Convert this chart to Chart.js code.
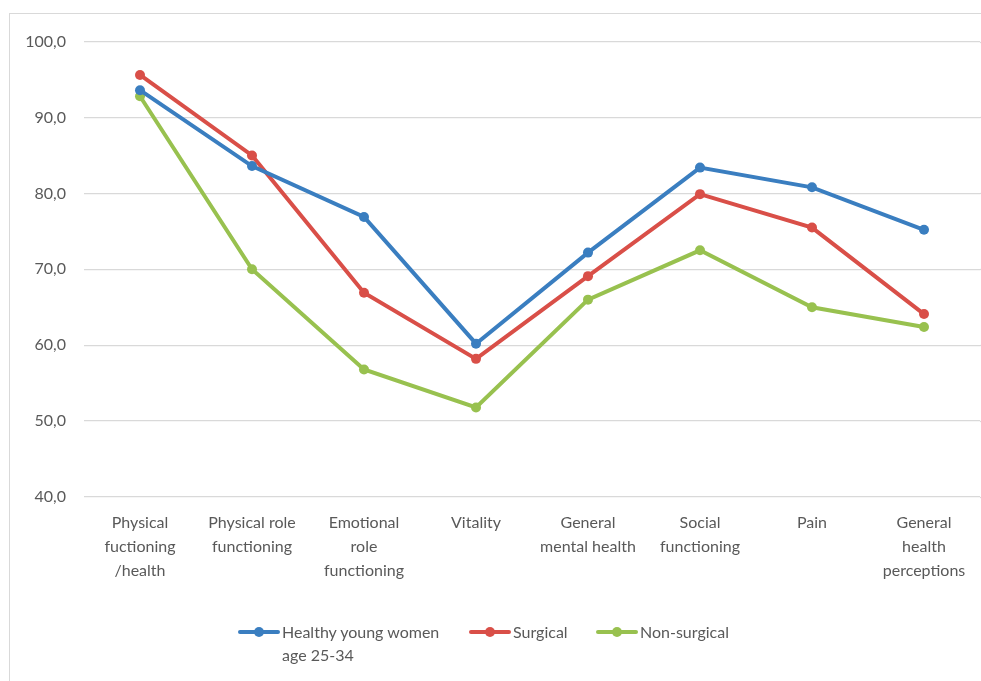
<!DOCTYPE html>
<html>
<head>
<meta charset="utf-8">
<script src="https://cdn.jsdelivr.net/npm/chart.js@4"></script>
<style>
html,body{margin:0;padding:0;background:#fff;width:981px;height:681px;overflow:hidden;position:relative;}
#frame{position:absolute;left:9px;top:13px;width:1100px;height:800px;border-left:1px solid #d9d9d9;border-top:1px solid #d9d9d9;box-sizing:border-box;}
#wrap{position:absolute;left:0;top:0;width:1000px;height:667px;}
#legend{position:absolute;top:0;left:0;font-family:Lato,"Liberation Sans",sans-serif;font-size:16px;color:#595959;}
.item{position:absolute;display:flex;align-items:flex-start;line-height:23px;white-space:nowrap;}
.sw{position:relative;width:42px;height:23px;margin-right:2px;flex:none;}
.sw .ln{position:absolute;left:0;right:0;top:10px;height:4px;border-radius:2px;}
.sw .pt{position:absolute;left:16px;top:7px;width:10px;height:10px;border-radius:50%;}
</style>
</head>
<body>
<div id="frame"><div id="wrap"><canvas id="c"></canvas></div></div>
<div id="legend"></div>
<script>
const categories = [
  ["Physical","fuctioning","/health"],
  ["Physical role","functioning"],
  ["Emotional","role","functioning"],
  ["Vitality"],
  ["General","mental health"],
  ["Social","functioning"],
  ["Pain"],
  ["General","health","perceptions"]
];
const seriesNames = ["Healthy young women age 25-34", "Surgical", "Non-surgical"];
const healthy = [93.6, 83.6, 76.9, 60.2, 72.2, 83.4, 80.8, 75.2];
const surgical = [95.6, 85.0, 66.9, 58.2, 69.1, 79.9, 75.5, 64.1];
const nonSurgical = [92.8, 70.0, 56.8, 51.8, 66.0, 72.5, 65.0, 62.4];
const colors = ["#3A7EC0", "#D94F48", "#98C14F"];
const yMin = 40, yMax = 100, yStep = 10;

const seriesData = [healthy, surgical, nonSurgical];
const datasets = seriesData.map((d, i) => ({
  label: seriesNames[i],
  data: d,
  borderColor: colors[i],
  backgroundColor: colors[i],
  borderWidth: 4,
  pointRadius: 5,
  pointHoverRadius: 5,
  pointBorderWidth: 0,
  tension: 0,
  fill: false
}));

const font = {family: "Lato, 'Liberation Sans', sans-serif", size: 16};

// plugin: extend horizontal gridlines to the right edge of the page (as in the reference)
const gridExtend = {
  id: 'gridExtend',
  beforeDatasetsDraw(chart) {
    const {ctx, chartArea, scales} = chart;
    ctx.save();
    ctx.strokeStyle = '#d9d9d9';
    ctx.lineWidth = 1.3;
    scales.y.ticks.forEach((t) => {
      const y = Math.round(scales.y.getPixelForValue(t.value)) + 0.5;
      ctx.beginPath();
      ctx.moveTo(chartArea.right, y);
      ctx.lineTo(chart.width, y);
      ctx.stroke();
    });
    ctx.restore();
  }
};

new Chart(document.getElementById('c'), {
  type: 'line',
  data: {labels: categories, datasets: datasets},
  options: {
    responsive: true,
    maintainAspectRatio: false,
    animation: false,
    layout: {padding: {top: 27, right: 30, left: 0, bottom: 0}},
    plugins: {legend: {display: false}, tooltip: {enabled: false}},
    scales: {
      x: {
        offset: true,
        grid: {display: false, drawTicks: false},
        border: {display: false},
        ticks: {color: '#595959', font: {...font, lineHeight: 1.5}, padding: 14, maxRotation: 0, autoSkip: false},
        afterFit: (s) => { s.height = 184; }
      },
      y: {
        min: yMin, max: yMax,
        grid: {color: '#d9d9d9', lineWidth: 1.3, drawTicks: false},
        border: {display: false},
        ticks: {
          stepSize: yStep, color: '#595959', font: font, padding: 18,
          callback: (v) => v.toFixed(1).replace('.', ',')
        },
        afterFit: (s) => { s.width = 74; }
      }
    }
  },
  plugins: [gridExtend]
});

// HTML legend built from series names/colors
const legendPos = [[238, 620, "Healthy young women<br>age 25-34"], [469, 620, null], [596, 620, null]];
const lg = document.getElementById('legend');
seriesNames.forEach((name, i) => {
  const it = document.createElement('div');
  it.className = 'item';
  it.style.left = legendPos[i][0] + 'px';
  it.style.top = legendPos[i][1] + 'px';
  it.innerHTML = '<div class="sw"><div class="ln" style="background:' + colors[i] + '"></div><div class="pt" style="background:' + colors[i] + '"></div></div><div>' + (legendPos[i][2] || name) + '</div>';
  lg.appendChild(it);
});
</script>
</body>
</html>
